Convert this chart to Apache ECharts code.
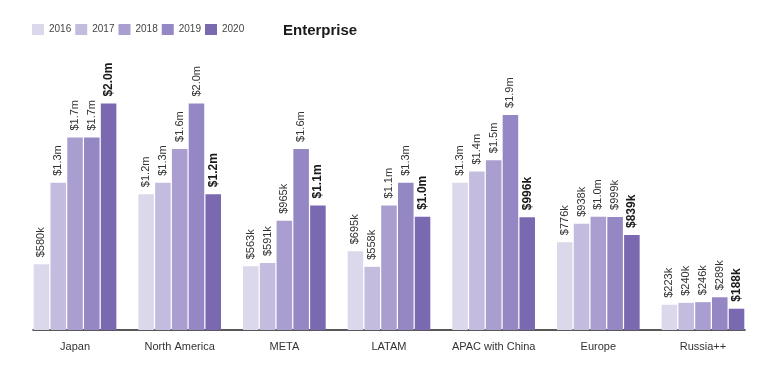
<!DOCTYPE html>
<html>
<head>
<meta charset="utf-8">
<script src="https://cdn.jsdelivr.net/npm/echarts@6/dist/echarts.min.js"></script>
<style>
html,body{margin:0;padding:0;background:#fff;}
#chart{width:778px;height:373px;}
</style>
</head>
<body>
<div id="chart"></div>
<script>
// Data (values in thousands of USD)
const categories = ['Japan', 'North America', 'META', 'LATAM', 'APAC with China', 'Europe', 'Russia++'];
const years = ['2016', '2017', '2018', '2019', '2020'];
const v2016 = [580, 1200, 563, 695, 1300, 776, 223];
const v2017 = [1300, 1300, 591, 558, 1400, 938, 240];
const v2018 = [1700, 1600, 965, 1100, 1500, 1000, 246];
const v2019 = [1700, 2000, 1600, 1300, 1900, 999, 289];
const v2020 = [2000, 1200, 1100, 1000, 996, 839, 188];
const seriesValues = [v2016, v2017, v2018, v2019, v2020];
const colors = ['#dcd8eb', '#c4bcdf', '#aa9ed0', '#9586c4', '#7a68b0'];

const fmt = function (p) {
  const v = p.value;
  return v >= 1000 ? '$' + (v / 1000).toFixed(1) + 'm' : '$' + v + 'k';
};

const FONT = '"Liberation Sans", Arial, sans-serif';

const series = years.map(function (y, i) {
  const last = i === years.length - 1;
  return {
    name: y,
    type: 'bar',
    xAxisIndex: 0,
    yAxisIndex: 0,
    data: seriesValues[i],
    barGap: '8%',
    barCategoryGap: '21%',
    itemStyle: { color: colors[i] },
    label: {
      show: true,
      position: 'top',
      rotate: 90,
      align: 'left',
      verticalAlign: 'middle',
      distance: 7,
      formatter: fmt,
      fontFamily: FONT,
      fontSize: last ? 12 : 11,
      fontWeight: last ? 'bold' : 'normal',
      color: last ? '#1a1a1a' : '#333'
    }
  };
});

const chart = echarts.init(document.getElementById('chart'), null, { renderer: 'canvas' });
chart.setOption({
  animation: false,
  backgroundColor: '#ffffff',
  textStyle: { fontFamily: FONT },
  title: {
    text: 'Enterprise',
    left: 278,
    top: 18,
    textStyle: { fontFamily: FONT, fontSize: 15, fontWeight: 'bold', color: '#1a1a1a' }
  },
  legend: {
    data: years,
    left: 27,
    top: 19,
    itemWidth: 12,
    itemHeight: 11,
    itemGap: 4,
    icon: 'rect',
    textStyle: { fontFamily: FONT, fontSize: 10, color: '#444' }
  },
  grid: [
    { left: 22.7, width: 732.6, top: 47, bottom: 43, containLabel: false },
    { left: 33, width: 712, top: 47, bottom: 43, containLabel: false }
  ],
  xAxis: [
    {
      type: 'category',
      gridIndex: 0,
      data: categories,
      axisLine: { show: false },
      axisTick: { show: false },
      axisLabel: { fontFamily: FONT, fontSize: 11, color: '#333', margin: 11, interval: 0 }
    },
    {
      type: 'category',
      gridIndex: 1,
      data: [''],
      axisLine: { show: true, lineStyle: { color: '#222', width: 1.5 } },
      axisTick: { show: false },
      axisLabel: { show: false }
    }
  ],
  yAxis: [
    { type: 'value', gridIndex: 0, min: 0, max: 2500, show: false },
    { type: 'value', gridIndex: 1, min: 0, max: 2500, show: false }
  ],
  series: series
});
</script>
</body>
</html>
